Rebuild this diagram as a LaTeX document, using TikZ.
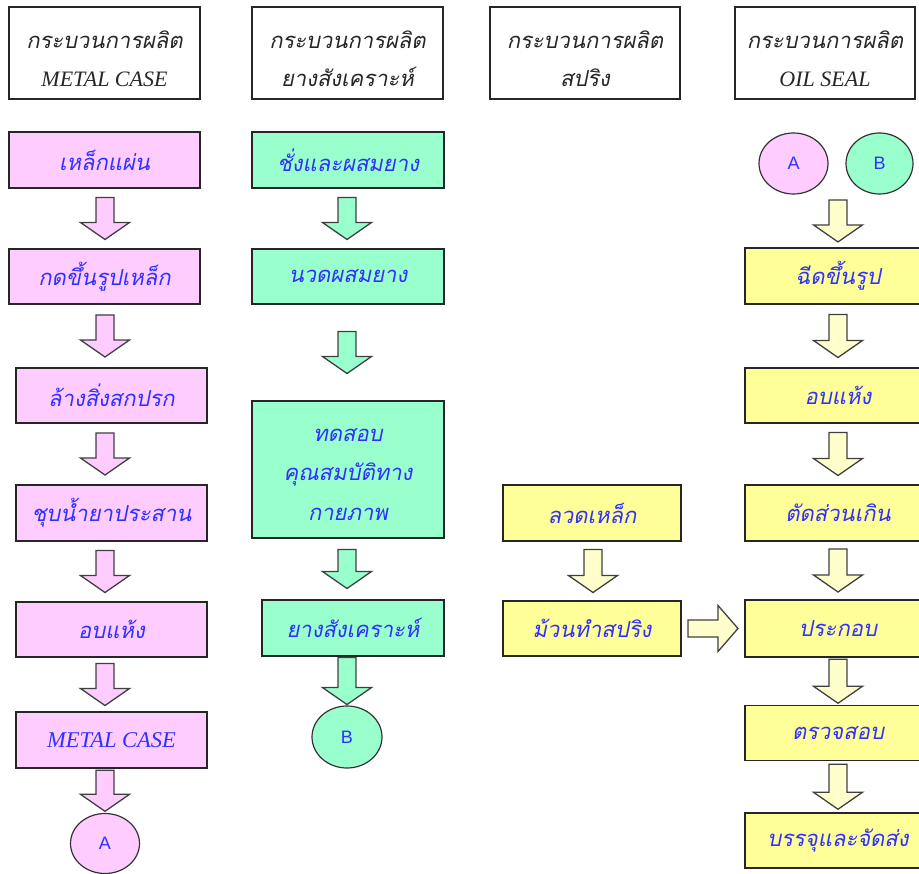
\documentclass[tikz,border=0pt]{standalone}
\usepackage{fontspec}
\usetikzlibrary{shapes.geometric,calc}
\newfontfamily\thaiit[Script=Thai,FakeSlant=0.2]{Loma}
\newfontfamily\serit{Liberation Serif}
\newfontfamily\sansA{Liberation Sans}
\definecolor{pinkf}{HTML}{FFCCFF}
\definecolor{greenf}{HTML}{99FFCC}
\definecolor{yelf}{HTML}{FFFF99}
\definecolor{yelarr}{HTML}{FFFFCC}
\definecolor{txtblue}{HTML}{3030FF}
% vertical block arrow: [length]{column coord}{top anchor}{bottom anchor}{fill}
\newcommand\blkdown[5][42]{%
  \path let \p1=($(#3)!0.5!(#4)$), \p2=(#2) in coordinate (am) at (\x2,\y1);
  \pgfmathsetmacro\hl{#1/2}%
  \draw[blk, fill=#5, shift={(am)}] (-9,-\hl) -- (9,-\hl) -- (9,\hl-17) -- (24.5,\hl-17)
     -- (0,\hl) -- (-24.5,\hl-17) -- (-9,\hl-17) -- cycle;
}
\newcommand\blkright[3]{%
  \path coordinate (hm) at ($(#1)!0.5!(#2)$);
  \draw[blk, fill=#3, shift={(hm)}] (-25,-8.5) -- (5,-8.5) -- (5,-23) -- (25,0)
     -- (5,23) -- (5,8.5) -- (-25,8.5) -- cycle;
}
\begin{document}
\begin{tikzpicture}[x=1pt,y=-1pt,
  box/.style={draw=black!85, line width=1.4pt, minimum width=191, minimum height=56,
    inner sep=0pt, text=txtblue, align=center, font=\thaiit\fontsize{22}{26}\selectfont},
  hdr/.style={draw=black!85, line width=1.4pt, fill=white, minimum height=92,
    inner sep=0pt, text=black!85, align=center, font=\thaiit\fontsize{22}{38}\selectfont},
  circ/.style={ellipse, draw=black!80, line width=1.2pt, inner sep=0pt,
    minimum width=69, minimum height=61, text=txtblue, font=\sansA\fontsize{18}{20}\selectfont},
  blk/.style={draw=black!75, line width=1.3pt, line join=miter}
]
\useasboundingbox (0,0) rectangle (919,874);
\clip (0,0) rectangle (919,874);
\fill[white] (0,0) rectangle (919,874);

% column coordinates
\coordinate (c1) at (105,0);
\coordinate (c2) at (347,0);
\coordinate (c3) at (593,0);
\coordinate (c4) at (838,0);

% headers
\node[hdr, minimum width=191] (h1) at (104.5,53) {\rule{0pt}{29pt}กระบวนการผลิต\\{\serit\itshape METAL CASE}};
\node[hdr, minimum width=191] (h2) at (347.5,53) {\rule{0pt}{29pt}กระบวนการผลิต\\ยางสังเคราะห์};
\node[hdr, minimum width=190] (h3) at (585,53) {\rule{0pt}{29pt}กระบวนการผลิต\\สปริง};
\node[hdr, minimum width=180] (h4) at (825,53) {\rule{0pt}{29pt}กระบวนการผลิต\\{\serit\itshape OIL SEAL}};

% column 1 : metal case
\node[box, fill=pinkf] (m1) at (104.5,160) {เหล็กแผ่น};
\node[box, fill=pinkf, minimum height=55] (m2) at (104.5,276.5) {กดขึ้นรูปเหล็ก};
\node[box, fill=pinkf, minimum height=55] (m3) at (111.5,395.5) {ล้างสิ่งสกปรก};
\node[box, fill=pinkf] (m4) at (111.5,513) {ชุบน้ำยาประสาน};
\node[box, fill=pinkf, minimum height=55] (m5) at (111.5,629.5) {อบแห้ง};
\node[box, fill=pinkf, font=\serit\itshape\fontsize{22.5}{26}\selectfont] (m6) at (111.5,740) {METAL CASE};
\node[circ, fill=pinkf, minimum height=60] (a1) at (105,843.5) {A};

\blkdown{c1}{m1.south}{m2.north}{pinkf}
\blkdown{c1}{m2.south}{m3.north}{pinkf}
\blkdown{c1}{m3.south}{m4.north}{pinkf}
\blkdown{c1}{m4.south}{m5.north}{pinkf}
\blkdown{c1}{m5.south}{m6.north}{pinkf}
\blkdown[41]{c1}{m6.south}{a1.north}{pinkf}

% column 2 : synthetic rubber
\node[box, fill=greenf, minimum width=192] (g1) at (348,160) {ชั่งและผสมยาง};
\node[box, fill=greenf, minimum width=192, minimum height=55] (g2) at (348,276.5) {นวดผสมยาง};
\node[box, fill=greenf, minimum width=192, minimum height=137,
  font=\thaiit\fontsize{22}{39.5}\selectfont] (g3) at (348,469.5) {\rule{0pt}{23pt}ทดสอบ\\คุณสมบัติทาง\\กายภาพ};
\node[box, fill=greenf, minimum width=182] (g4) at (353,628) {ยางสังเคราะห์};
\node[circ, fill=greenf, minimum width=70, minimum height=62] (b1) at (347,737) {B};

\blkdown{c2}{g1.south}{g2.north}{greenf}
\blkdown{c2}{g2.south}{g3.north}{greenf}
\blkdown[39]{c2}{g3.south}{g4.north}{greenf}
\blkdown[47]{c2}{g4.south}{b1.north}{greenf}

% column 3 : spring
\node[box, fill=yelf, minimum width=178] (s1) at (592,513) {ลวดเหล็ก};
\node[box, fill=yelf, minimum width=178, minimum height=55] (s2) at (592,628.5) {ม้วนทำสปริง};
\blkdown[43]{c3}{s1.south}{s2.north}{yelarr}

% column 4 : oil seal
\node[circ, fill=pinkf] (a2) at (793.5,163.5) {A};
\node[circ, fill=greenf, minimum width=67] (b2) at (879.5,163.5) {B};
\node[box, fill=yelf, minimum width=186] (o1) at (838,276) {ฉีดขึ้นรูป};
\node[box, fill=yelf, minimum width=186, minimum height=55] (o2) at (838,395.5) {อบแห้ง};
\node[box, fill=yelf, minimum width=186] (o3) at (838,513) {ตัดส่วนเกิน};
\node[box, fill=yelf, minimum width=186, minimum height=57] (o4) at (838,628.5) {ประกอบ};
\node[box, fill=yelf, minimum width=186, minimum height=55] (o5) at (838,733) {ตรวจสอบ};
\node[box, fill=yelf, minimum width=186, minimum height=55] (o6) at (838,840.5) {บรรจุและจัดส่ง};

\blkdown{c4}{a2.south}{o1.north}{yelarr}
\blkdown[43]{c4}{o1.south}{o2.north}{yelarr}
\blkdown[43]{c4}{o2.south}{o3.north}{yelarr}
\blkdown[43]{c4}{o3.south}{o4.north}{yelarr}
\blkdown[44]{c4}{o4.south}{o5.north}{yelarr}
\blkdown[45]{c4}{o5.south}{o6.north}{yelarr}

\blkright{s2.east}{o4.west}{yelarr}
\end{tikzpicture}
\end{document}
